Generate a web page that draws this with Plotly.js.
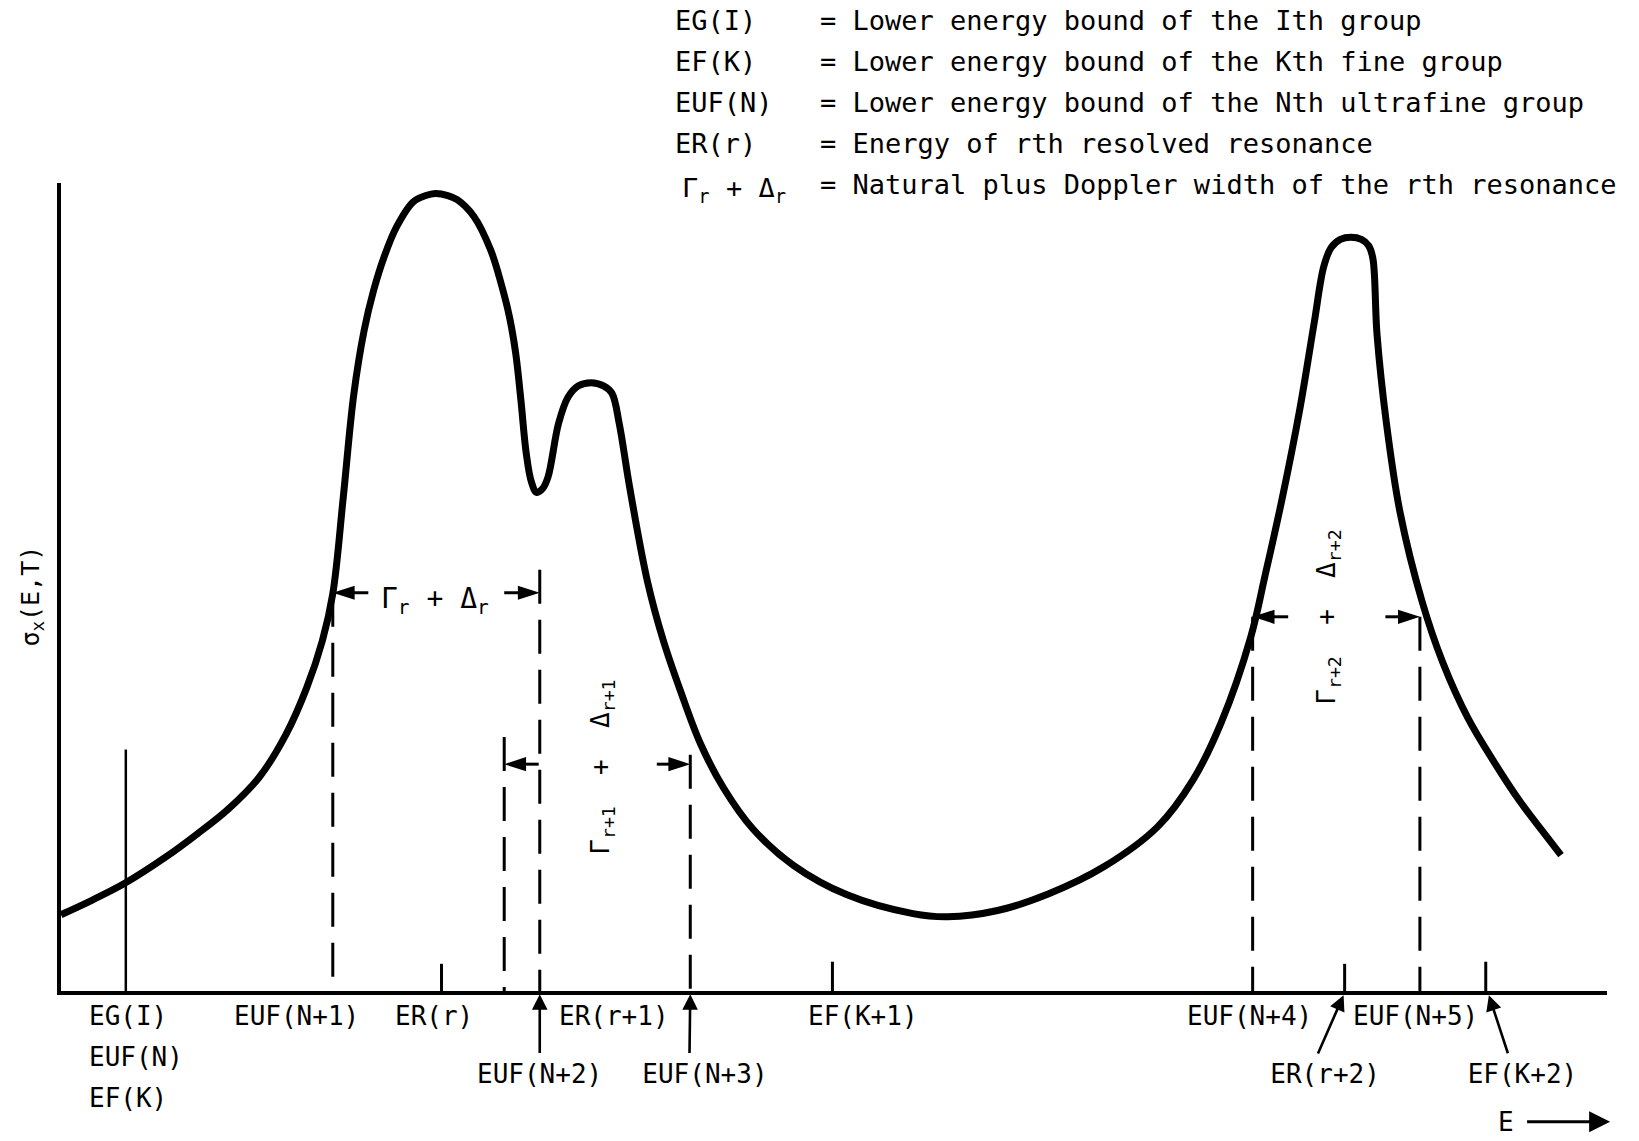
<!DOCTYPE html>
<html>
<head>
<meta charset="utf-8">
<script src="https://cdn.plot.ly/plotly-3.0.1.min.js"></script>
<style>html,body{margin:0;padding:0;background:#fff;}#chart{width:1639px;height:1141px;}</style>
</head>
<body>
<div id="chart"></div>
<script>
// Schematic cross section sigma_x(E,T) vs E (arbitrary units)
const curveE = [0, 30, 61, 100, 130, 160, 190, 215, 235, 250, 260, 270, 280, 290, 299, 309, 321, 337, 349, 358, 370, 379, 395, 411, 421, 429, 435, 440, 445, 450, 455, 461, 466, 476, 485, 495, 507, 519, 527, 534, 544, 561, 576, 593, 612, 634, 662, 701, 752, 815, 848, 896, 945, 998, 1049, 1083, 1110, 1138, 1152, 1168, 1185, 1199, 1208, 1215, 1224, 1234, 1244, 1251, 1255, 1259, 1268, 1281, 1302, 1322, 1346, 1371, 1396, 1418, 1435];
const curveSigma = [73, 87, 103, 128, 150, 174, 205, 245, 290, 335, 380, 472, 570, 632, 670, 702, 731, 755, 761, 763, 761, 757, 741, 709, 677, 645, 610, 565, 515, 487, 477, 481, 492, 543, 568, 579, 582, 579, 572, 543, 482, 392, 336, 286, 236, 194, 155, 120, 92, 74, 71, 77, 93, 119, 157, 202, 257, 338, 398, 470, 556, 640, 693, 711, 719, 721, 719, 713, 701, 628, 543, 458, 373, 314, 261, 219, 181, 152, 130];

// Energy group bounds marked on the E axis
const groupBoundE = [62];          // EG(I) = EUF(N) = EF(K)
const groupBoundTop = [231];
const ultrafineE = [260, 424, 458, 602, 1140, 1300];   // dashed bounds EUF(...)
const ultrafineTop = [381, 243, 403, 226, 358, 358];
const tickE = [364, 738, 1228, 1363];                  // ER(r), EF(K+1), ER(r+2), EF(K+2)
const tickTop = [26, 28, 26, 28];

// Resonance width markers: tail -> tip at a given sigma
const widthArrowTail = [294, 424, 457, 570, 1174, 1267];
const widthArrowTip = [260, 458, 424, 602, 1140, 1300];
const widthArrowSigma = [381, 381, 217, 217, 358, 358];

// Axis labels (pointer = arrow tip on the axis, pad = blank cells left of label)
const axisLabelText = ['EG(I)', 'EUF(N)', 'EF(K)', 'EUF(N+1)', 'ER(r)', 'ER(r+1)', 'EUF(N+2)', 'EUF(N+3)', 'EF(K+1)', 'EUF(N+4)', 'EUF(N+5)', 'ER(r+2)', 'EF(K+2)'];
const axisLabelE = [25, 25, 25, 225, 357, 529, 458, 616, 767, 1137, 1296, 1209, 1398];
const axisLabelY = [-24, -63, -102, -24, -24, -24, -79, -79, -24, -24, -24, -79, -79];
const axisLabelAnchor = ['left', 'left', 'left', 'center', 'center', 'center', 'center', 'center', 'center', 'center', 'center', 'center', 'center'];
const axisPointerE = [null, null, null, null, null, null, 458, 602, null, null, null, 1227, 1366];
const axisPointerY = [null, null, null, null, null, null, -3, -3, null, null, null, -4, -4];
const axisLabelPad = [0, 0, 0, 0, 0, 0, 0, 2, 0, 0, 0, 2, 1];

// Legend block
const legendTerms = ['EG(I)', 'EF(K)', 'EUF(N)', 'ER(r)', 'Γ<sub>r</sub> + Δ<sub>r</sub>'];
const legendDefs = ['= Lower energy bound of the Ith group', '= Lower energy bound of the Kth fine group', '= Lower energy bound of the Nth ultrafine group', '= Energy of rth resolved resonance', '= Natural plus Doppler width of the rth resonance'];
const legendY = [928, 889, 850, 811, 772];

const X_MAX = 1479, Y_MAX = 773;
const FONT = 'DejaVu Sans Mono';
const BLACK = '#000';
const NB = '\u00a0';
const PXU = 1546 / X_MAX; // pixels per data unit
const CHAR = 26 * 0.602 / PXU; // monospace cell width in data units at 26px

function segs(xs, tops, base, topFirst) {
  const x = [], y = [];
  xs.forEach((v, i) => {
    x.push(v, v, null);
    if (topFirst) y.push(tops[i], base, null); else y.push(base, tops[i], null);
  });
  return {x, y};
}

const g = segs(groupBoundE, groupBoundTop, 0, false);
const u = segs(ultrafineE, ultrafineTop, 0, true);
const t = segs(tickE, tickTop, 0, false);

const wa = {x: [], y: [], s: []};
widthArrowTail.forEach((v, i) => {
  wa.x.push(v, widthArrowTip[i], null);
  wa.y.push(widthArrowSigma[i], widthArrowSigma[i], null);
  wa.s.push(0, 23, 0);
});

const traces = [
  {type: 'scatter', mode: 'lines', x: g.x, y: g.y, line: {color: BLACK, width: 2.5}, hoverinfo: 'skip'},
  {type: 'scatter', mode: 'lines', x: u.x, y: u.y, line: {color: BLACK, width: 3, dash: '34px,16px'}, hoverinfo: 'skip'},
  {type: 'scatter', mode: 'lines', x: t.x, y: t.y, line: {color: BLACK, width: 3}, hoverinfo: 'skip'},
  {type: 'scatter', mode: 'lines+markers', x: wa.x, y: wa.y, line: {color: BLACK, width: 3},
   marker: {symbol: 'arrow', angleref: 'previous', size: wa.s, color: BLACK, opacity: 1, line: {width: 0}}, hoverinfo: 'skip'},
  {type: 'scatter', mode: 'lines', x: curveE, y: curveSigma, line: {color: BLACK, width: 7, shape: 'spline', smoothing: 1}, hoverinfo: 'skip'}
];

// annotations, placed in paper units (data units / range) so nothing outside the ranges is hidden
const ann = [];
function txt(text, x, y, size, xanchor, extra) {
  ann.push(Object.assign({text: text, x: x / X_MAX, xref: 'paper', y: y / Y_MAX, yref: 'paper', showarrow: false,
    xanchor: xanchor || 'center', yanchor: 'middle', font: {family: FONT, size: size, color: BLACK}}, extra || {}));
}
function pointer(text, tipX, tipY, boxX, boxY, size, extra) {
  ann.push(Object.assign({text: text, x: tipX / X_MAX, xref: 'paper', y: tipY / Y_MAX, yref: 'paper',
    ax: (boxX - tipX) * PXU, ay: -(boxY - tipY) * PXU, axref: 'pixel', ayref: 'pixel',
    xanchor: 'center', yanchor: 'middle', showarrow: true, arrowhead: 2, arrowwidth: 2.6, arrowsize: 1.2,
    arrowcolor: BLACK, standoff: 0, startstandoff: 4, font: {family: FONT, size: size, color: BLACK}}, extra || {}));
}

axisLabelText.forEach((s, i) => {
  if (axisPointerE[i] === null) {
    txt(s, axisLabelE[i], axisLabelY[i], 26, axisLabelAnchor[i]);
  } else {
    const pad = axisLabelPad[i];
    pointer(NB.repeat(pad) + s, axisPointerE[i], axisPointerY[i], axisLabelE[i] - pad * CHAR / 2, axisLabelY[i], 26);
  }
});

legendTerms.forEach((s, i) => txt(s, i === 4 ? 592 : 585, legendY[i] - (i === 4 ? 5 : 0), 27, 'left'));
legendDefs.forEach((s, i) => txt(s, 724, legendY[i], 27, 'left'));

// width labels
txt('Γ<sub>r</sub> + Δ<sub>r</sub>', 358, 374, 28, 'center');
txt('Γ<sub>r+1</sub>' + NB + ' +' + NB + ' Δ<sub>r+1</sub>', 517, 214, 26, 'center', {textangle: -90});
txt('Γ<sub>r+2</sub>' + NB + ' +' + NB + ' Δ<sub>r+2</sub>', 1212, 358, 26, 'center', {textangle: -90});

// E direction arrow
pointer('E', 1482, -125, 1382, -125, 26, {arrowwidth: 3, arrowsize: 1.4, startstandoff: 12});

// y-axis label
txt('σ<sub>x</sub>(E,T)', -28, 378, 25, 'center', {textangle: -90});

const layout = {
  width: 1639, height: 1141,
  margin: {l: 61, r: 32, t: 183, b: 150, pad: 0},
  paper_bgcolor: '#fff', plot_bgcolor: '#fff',
  showlegend: false,
  xaxis: {range: [0, X_MAX], showline: true, linecolor: BLACK, linewidth: 4, showgrid: false, zeroline: false, showticklabels: false, ticks: '', fixedrange: true},
  yaxis: {range: [0, Y_MAX], showline: true, linecolor: BLACK, linewidth: 4, showgrid: false, zeroline: false, showticklabels: false, ticks: '', fixedrange: true},
  annotations: ann
};

Plotly.newPlot('chart', traces, layout, {displayModeBar: false, staticPlot: true});
</script>
</body>
</html>
